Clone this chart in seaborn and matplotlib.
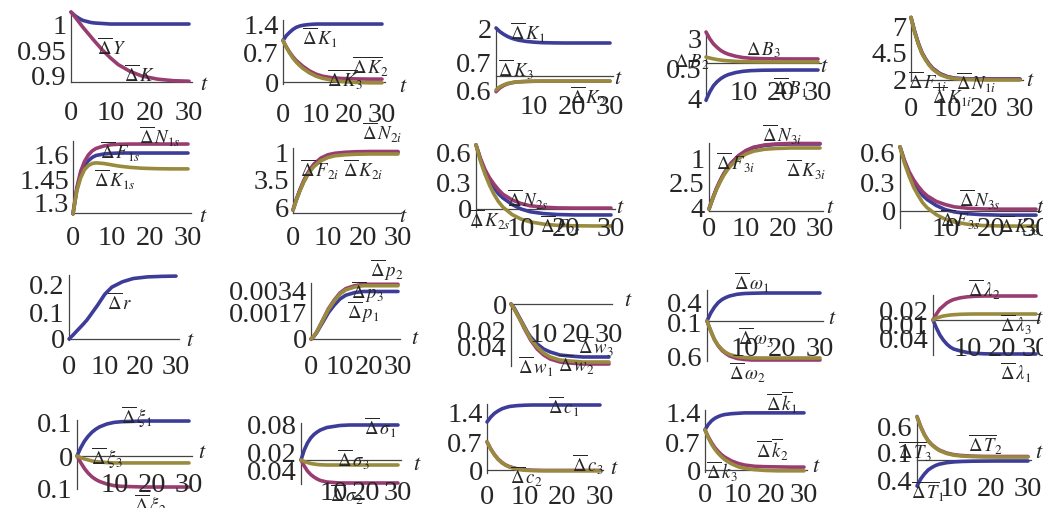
import matplotlib.pyplot as plt
import matplotlib.transforms as mtransforms
import seaborn as sns

sns.set_style('white')
plt.rcParams['font.family'] = 'serif'
plt.rcParams['font.serif'] = ['Liberation Serif', 'DejaVu Serif']
plt.rcParams['mathtext.fontset'] = 'stix'

BLUE, MAG, GOLD = '#3d3d99', '#993d71', '#998b3d'

# time grid shared by every panel
T = [0, 1, 2, 3, 4, 5, 6, 8, 10, 12, 15, 18, 22, 26, 30]

# ---- row 1 ----
c1_Y = [1.023, 1.016, 1.011, 1.007, 1.005, 1.003, 1.002, 1.001, 1.0, 1.0, 1.0, 1.0, 1.0, 1.0, 1.0]
c1_K = [1.023, 1.014, 1.004, 0.994, 0.985, 0.976, 0.967, 0.950, 0.935, 0.922, 0.909, 0.900, 0.894, 0.891, 0.890]

c2_K1 = [1.0, 1.12, 1.2, 1.27, 1.32, 1.35, 1.37, 1.39, 1.4, 1.4, 1.4, 1.4, 1.4, 1.4, 1.4]
c2_K2 = [1.0, 0.85, 0.72, 0.61, 0.52, 0.45, 0.38, 0.27, 0.19, 0.14, 0.1, 0.085, 0.075, 0.07, 0.07]
c2_K3 = [1.0, 0.84, 0.7, 0.58, 0.48, 0.4, 0.33, 0.22, 0.14, 0.09, 0.04, 0.01, -0.01, -0.02, -0.02]

c3_K1 = [2.0, 1.85, 1.74, 1.65, 1.58, 1.53, 1.49, 1.44, 1.41, 1.39, 1.38, 1.375, 1.375, 1.375, 1.375]
c3_K2 = [-0.65, -0.5, -0.4, -0.33, -0.29, -0.26, -0.245, -0.23, -0.22, -0.215, -0.215, -0.215, -0.215, -0.215, -0.215]
c3_K3 = [-0.58, -0.45, -0.37, -0.31, -0.28, -0.25, -0.24, -0.22, -0.215, -0.21, -0.21, -0.21, -0.21, -0.21, -0.21]

c4_B1 = [-3.6, -2.8, -2.2, -1.8, -1.5, -1.28, -1.12, -0.92, -0.8, -0.74, -0.7, -0.69, -0.68, -0.68, -0.68]
c4_B3 = [3.0, 2.35, 1.85, 1.5, 1.2, 1.0, 0.85, 0.65, 0.52, 0.46, 0.42, 0.4, 0.39, 0.39, 0.39]
c4_B2 = [0.58, 0.48, 0.4, 0.33, 0.28, 0.24, 0.21, 0.16, 0.13, 0.115, 0.105, 0.1, 0.1, 0.1, 0.1]

c5_F = [7.9, 6.6, 5.5, 4.6, 4.0, 3.5, 3.1, 2.6, 2.32, 2.18, 2.12, 2.1, 2.1, 2.1, 2.1]
c5_N = [7.9, 6.55, 5.45, 4.55, 3.95, 3.45, 3.07, 2.57, 2.3, 2.15, 2.09, 2.07, 2.06, 2.06, 2.06]
c5_K = [7.9, 6.5, 5.4, 4.5, 3.9, 3.4, 3.0, 2.5, 2.25, 2.12, 2.05, 2.02, 2.0, 2.0, 2.0]

# ---- row 2 ----
c6_F = [1.24, 1.39, 1.48, 1.535, 1.565, 1.585, 1.597, 1.606, 1.61, 1.612, 1.612, 1.612, 1.612, 1.612, 1.612]
c6_N = [1.24, 1.40, 1.50, 1.56, 1.60, 1.625, 1.64, 1.655, 1.663, 1.666, 1.667, 1.667, 1.667, 1.667, 1.667]
c6_K = [1.24, 1.38, 1.46, 1.51, 1.535, 1.548, 1.552, 1.548, 1.54, 1.532, 1.524, 1.519, 1.516, 1.515, 1.515]

c7_F = [0.12, 0.55, 0.92, 1.25, 1.52, 1.75, 1.93, 2.17, 2.3, 2.36, 2.40, 2.42, 2.43, 2.43, 2.43]
c7_N = [0.12, 0.56, 0.94, 1.27, 1.55, 1.78, 1.96, 2.2, 2.33, 2.39, 2.43, 2.45, 2.46, 2.46, 2.46]
c7_K = [0.12, 0.53, 0.89, 1.21, 1.47, 1.69, 1.86, 2.09, 2.22, 2.29, 2.33, 2.35, 2.36, 2.36, 2.36]

c8_K = [0.70, 0.54, 0.41, 0.31, 0.23, 0.165, 0.12, 0.05, 0.0, -0.03, -0.05, -0.06, -0.065, -0.065, -0.065]
c8_N = [0.70, 0.55, 0.43, 0.34, 0.27, 0.21, 0.16, 0.10, 0.06, 0.035, 0.02, 0.012, 0.01, 0.01, 0.01]
c8_F = [0.70, 0.52, 0.38, 0.26, 0.16, 0.08, 0.02, -0.06, -0.11, -0.14, -0.165, -0.178, -0.183, -0.185, -0.185]

c9_F = [0.08, 0.5, 0.88, 1.2, 1.48, 1.7, 1.9, 2.2, 2.4, 2.53, 2.62, 2.66, 2.68, 2.68, 2.68]
c9_N = [0.08, 0.51, 0.9, 1.22, 1.5, 1.72, 1.92, 2.22, 2.42, 2.55, 2.64, 2.68, 2.7, 2.7, 2.7]
c9_K = [0.08, 0.48, 0.85, 1.16, 1.43, 1.65, 1.83, 2.1, 2.28, 2.39, 2.47, 2.5, 2.52, 2.52, 2.52]

c10_F = [0.70, 0.54, 0.41, 0.31, 0.235, 0.17, 0.125, 0.06, 0.015, -0.01, -0.03, -0.04, -0.045, -0.045, -0.045]
c10_N = [0.70, 0.55, 0.43, 0.34, 0.27, 0.21, 0.165, 0.105, 0.07, 0.045, 0.03, 0.023, 0.02, 0.02, 0.02]
c10_K = [0.70, 0.52, 0.38, 0.26, 0.17, 0.09, 0.035, -0.04, -0.09, -0.12, -0.145, -0.158, -0.163, -0.165, -0.165]

# ---- row 3 ----
c11_r = [0, 0.013, 0.027, 0.041, 0.055, 0.07, 0.088, 0.125, 0.165, 0.192, 0.212, 0.224, 0.23, 0.232, 0.233]

c12_p1 = [0, 0.00018, 0.00045, 0.0008, 0.00114, 0.00148, 0.00183, 0.00235, 0.00278, 0.00304, 0.00322, 0.0033, 0.0033, 0.0033, 0.0033]
c12_p2 = [0, 0.0002, 0.0005, 0.0009, 0.0013, 0.0017, 0.0021, 0.0027, 0.0032, 0.0035, 0.0037, 0.0038, 0.0038, 0.0038, 0.0038]
c12_p3 = [0, 0.0002, 0.0005, 0.00088, 0.00127, 0.00166, 0.00205, 0.00263, 0.00312, 0.00341, 0.00361, 0.0037, 0.0037, 0.0037, 0.0037]

c13_w3 = [0, -0.004, -0.01, -0.016, -0.022, -0.028, -0.033, -0.04, -0.045, -0.048, -0.051, -0.052, -0.053, -0.053, -0.053]
c13_w2 = [0, -0.005, -0.011, -0.017, -0.024, -0.03, -0.036, -0.045, -0.051, -0.055, -0.058, -0.059, -0.06, -0.06, -0.06]
c13_w1 = [0, -0.005, -0.011, -0.017, -0.023, -0.029, -0.035, -0.043, -0.049, -0.053, -0.056, -0.057, -0.058, -0.058, -0.058]

c14_o1 = [0, 0.16, 0.28, 0.37, 0.43, 0.47, 0.5, 0.535, 0.55, 0.555, 0.56, 0.56, 0.56, 0.56, 0.56]
c14_o2 = [0, -0.2, -0.38, -0.5, -0.59, -0.65, -0.7, -0.75, -0.77, -0.78, -0.78, -0.78, -0.78, -0.78, -0.78]
c14_o3 = [0, -0.2, -0.37, -0.49, -0.57, -0.63, -0.67, -0.71, -0.73, -0.74, -0.74, -0.74, -0.74, -0.74, -0.74]

c15_l1 = [0, -0.008, -0.015, -0.02, -0.024, -0.027, -0.029, -0.031, -0.0325, -0.0333, -0.0338, -0.034, -0.034, -0.034, -0.034]
c15_l2 = [0, 0.006, 0.011, 0.014, 0.017, 0.019, 0.0205, 0.0222, 0.0232, 0.0237, 0.024, 0.024, 0.024, 0.024, 0.024]
c15_l3 = [0, 0.002, 0.003, 0.004, 0.0045, 0.005, 0.0053, 0.0057, 0.0059, 0.006, 0.006, 0.006, 0.006, 0.006, 0.006]

# ---- row 4 ----
c16_x1 = [0, 0.025, 0.045, 0.06, 0.072, 0.081, 0.088, 0.097, 0.102, 0.104, 0.105, 0.106, 0.106, 0.106, 0.106]
c16_x2 = [0, -0.02, -0.038, -0.052, -0.063, -0.071, -0.077, -0.085, -0.09, -0.092, -0.093, -0.094, -0.094, -0.094, -0.094]
c16_x3 = [0, -0.005, -0.009, -0.012, -0.015, -0.017, -0.018, -0.02, -0.021, -0.021, -0.021, -0.021, -0.021, -0.021, -0.021]

c17_s1 = [0, 0.02, 0.034, 0.044, 0.051, 0.056, 0.06, 0.065, 0.067, 0.069, 0.07, 0.07, 0.07, 0.07, 0.07]
c17_s2 = [0, -0.012, -0.022, -0.029, -0.034, -0.038, -0.041, -0.044, -0.045, -0.046, -0.046, -0.046, -0.046, -0.046, -0.046]
c17_s3 = [0, -0.003, -0.005, -0.007, -0.008, -0.009, -0.0095, -0.01, -0.01, -0.01, -0.01, -0.01, -0.01, -0.01, -0.01]

c18_c1 = [1.16, 1.28, 1.37, 1.43, 1.48, 1.51, 1.535, 1.555, 1.565, 1.57, 1.57, 1.57, 1.57, 1.57, 1.57]
c18_c2 = [0.68, 0.51, 0.37, 0.26, 0.18, 0.12, 0.08, 0.03, 0.005, -0.005, -0.01, -0.01, -0.01, -0.01, -0.01]
c18_c3 = [0.68, 0.5, 0.36, 0.25, 0.17, 0.11, 0.07, 0.02, -0.005, -0.015, -0.02, -0.02, -0.02, -0.02, -0.02]

c19_k1 = [0.97, 1.1, 1.19, 1.25, 1.29, 1.32, 1.34, 1.36, 1.37, 1.38, 1.38, 1.38, 1.38, 1.38, 1.38]
c19_k2 = [0.97, 0.8, 0.66, 0.54, 0.45, 0.37, 0.31, 0.22, 0.16, 0.12, 0.09, 0.08, 0.075, 0.07, 0.07]
c19_k3 = [0.97, 0.78, 0.62, 0.5, 0.4, 0.32, 0.25, 0.15, 0.08, 0.04, 0.01, -0.01, -0.02, -0.02, -0.02]

c20_T1 = [-0.26, -0.19, -0.14, -0.1, -0.075, -0.055, -0.042, -0.027, -0.019, -0.015, -0.012, -0.011, -0.01, -0.01, -0.01]
c20_T2 = [0.435, 0.335, 0.255, 0.195, 0.155, 0.125, 0.1, 0.07, 0.053, 0.045, 0.039, 0.036, 0.035, 0.035, 0.035]
c20_T3 = [0.43, 0.33, 0.25, 0.19, 0.15, 0.12, 0.095, 0.065, 0.048, 0.04, 0.034, 0.031, 0.03, 0.03, 0.03]

# tick labels (copied as printed, signs are missing in the original)
XT_ALL = ['0', '10', '20', '30']
XT_CUT = ['', '10', '20', '30']
yt1 = ['1', '0.95', '0.9']
yt2 = ['1.4', '0.7', '0']
yt3 = ['2', '0.7', '0.6']
yt4 = ['3', '0.5', '4']
yt5 = ['7', '4.5', '2']
yt6 = ['1.6', '1.45', '1.3']
yt7 = ['1', '3.5', '6']
yt8 = ['0.6', '0.3', '0']
yt9 = ['1', '2.5', '4']
yt10 = ['0.6', '0.3', '0']
yt11 = ['0.2', '0.1', '0']
yt12 = ['0.0034', '0.0017', '0']
yt13 = ['0', '0.02', '0.04']
yt14 = ['0.4', '0.1', '0.6']
yt15 = ['0.02', '0.01', '0.04']
yt16 = ['0.1', '0', '0.1']
yt17 = ['0.08', '0.02', '0.04']
yt18 = ['1.4', '0.7', '0']
yt19 = ['1.4', '0.7', '0']
yt20 = ['0.6', '0.1', '0.4']

D = r'\overline{\Delta}\,'
nm1 = ['$' + D + 'Y$', '$' + D + 'K$']
nm2 = ['$' + D + 'K_1$', '$' + D + r'\overline{K}_2$', '$' + D + r'\overline{K}_3$']
nm3 = ['$' + D + 'K_1$', '$' + D + 'K_3$', '$' + D + 'K_2$']
nm4 = [r'$\Delta\,B_2$', r'$\Delta\,B_3$', '$' + D + 'B_1$']
nm5 = ['$' + D + 'F_{1i}$', '$' + D + 'N_{1i}$', '$' + D + 'K_{1i}$']
nm6 = ['$' + D + 'N_{1s}$', '$' + D + 'F_{1s}$', '$' + D + 'K_{1s}$']
nm7 = ['$' + D + 'N_{2i}$', '$' + D + 'F_{2i}$', '$' + D + 'K_{2i}$']
nm8 = ['$' + D + 'N_{2s}$', '$' + D + 'K_{2s}$', '$' + D + 'F_{2s}$']
nm9 = ['$' + D + 'N_{3i}$', '$' + D + 'F_{3i}$', '$' + D + 'K_{3i}$']
nm10 = ['$' + D + 'N_{3s}$', '$' + D + 'F_{3s}$', '$' + D + 'K_{3s}$']
nm11 = ['$' + D + 'r$']
nm12 = ['$' + D + 'p_2$', '$' + D + 'p_3$', '$' + D + 'p_1$']
nm13 = ['$' + D + 'w_1$', '$' + D + 'w_2$', '$' + D + 'w_3$']
nm14 = ['$' + D + r'\omega_1$', '$' + D + r'\omega_3$', '$' + D + r'\omega_2$']
nm15 = ['$' + D + r'\lambda_2$', '$' + D + r'\lambda_3$', '$' + D + r'\lambda_1$']
nm16 = ['$' + D + r'\xi_1$', '$' + D + r'\xi_3$', '$' + D + r'\xi_2$']
nm17 = ['$' + D + r'\sigma_1$', '$' + D + r'\sigma_3$', '$' + D + r'\sigma_2$']
nm18 = ['$' + D + 'c_1$', '$' + D + 'c_2$', '$' + D + 'c_3$']
nm19 = ['$' + D + r'\overline{k}_1$', '$' + D + r'\overline{k}_2$', '$' + D + 'k_3$']
nm20 = ['$' + D + r'\overline{T}_2$', '$' + D + r'\overline{T}_3$', '$' + D + r'\overline{T}_1$']

# layout in pixels: box = (x at t=0, x at t=30, top, bottom), axis = (pixel row, value)
PANELS = [
    dict(box=(71, 189, 12, 82), axis=(82, 0.8885), ppu=520, series=[(c1_Y, BLUE), (c1_K, MAG)],
         yt=(yt1, [24, 51, 76]), xt=(XT_ALL, 111), t=(204, 86), nm=(nm1, [(112, 48), (140, 75)])),
    dict(box=(283, 382, 20, 84), axis=(82, 0), ppu=41.4, series=[(c2_K1, BLUE), (c2_K2, MAG), (c2_K3, GOLD)],
         yt=(yt2, [24, 52, 82]), xt=(XT_ALL, 112), t=(403, 87), nm=(nm2, [(320, 38), (370, 67), (345, 80)])),
    dict(box=(496, 610, 27, 92), axis=(76, 0), ppu=24, series=[(c3_K1, BLUE), (c3_K2, MAG), (c3_K3, GOLD)],
         yt=(yt3, [28, 63, 90]), xt=(XT_CUT, 105), t=(618, 80), nm=(nm3, [(528, 33), (516, 70), (588, 97)])),
    dict(box=(706, 818, 31, 101), axis=(63, 0), ppu=10.33, series=[(c4_B1, BLUE), (c4_B3, MAG), (c4_B2, GOLD)],
         yt=(yt4, [39, 68, 98]), xt=(XT_CUT, 90), t=(824, 68), nm=(nm4, [(692, 62), (763, 50), (790, 88)])),
    dict(box=(911, 1020, 16, 81), axis=(80, 2.0), ppu=10.6, series=[(c5_F, BLUE), (c5_N, MAG), (c5_K, GOLD)],
         yt=(yt5, [27, 53, 80]), xt=(XT_ALL, 107), t=(1030, 82), nm=(nm5, [(928, 82), (976, 83), (952, 97)])),

    dict(box=(73, 188, 141, 214), axis=(213, 1.245), ppu=163.4, series=[(c6_F, BLUE), (c6_N, MAG), (c6_K, GOLD)],
         yt=(yt6, [155, 180, 203]), xt=(XT_ALL, 235), t=(203, 218), nm=(nm6, [(160, 137), (120, 152), (115, 180)])),
    dict(box=(293, 398, 148, 213), axis=(213, 0), ppu=25, series=[(c7_F, BLUE), (c7_N, MAG), (c7_K, GOLD)],
         yt=(yt7, [153, 180, 208]), xt=(XT_ALL, 235), t=(403, 218), nm=(nm7, [(382, 133), (320, 170), (363, 170)])),
    dict(box=(476, 611, 145, 227), axis=(209, 0), ppu=91.7, series=[(c8_K, BLUE), (c8_N, MAG), (c8_F, GOLD)],
         yt=(yt8, [153, 182, 208]), xt=(XT_CUT, 227), t=(620, 209), nm=(nm8, [(528, 200), (490, 220), (560, 226)])),
    dict(box=(709, 820, 143, 211), axis=(211, 0), ppu=25, series=[(c9_F, BLUE), (c9_N, MAG), (c9_K, GOLD)],
         yt=(yt9, [158, 182, 208]), xt=(XT_ALL, 227), t=(830, 209), nm=(nm9, [(782, 135), (736, 163), (806, 170)])),
    dict(box=(900, 1036, 146, 228), axis=(211, 0), ppu=91.7, series=[(c10_F, BLUE), (c10_N, MAG), (c10_K, GOLD)],
         yt=(yt10, [153, 182, 210]), xt=(XT_CUT, 227), t=(1040, 209), nm=(nm10, [(980, 200), (960, 220), (1020, 226)])),

    dict(box=(69, 176, 275, 340), axis=(339, 0), ppu=270, series=[(c11_r, BLUE)],
         yt=(yt11, [285, 313, 339]), xt=(XT_ALL, 365), t=(190, 342), nm=(nm11, [(120, 303)])),
    dict(box=(311, 398, 283, 340), axis=(339, 0), ppu=14400, series=[(c12_p1, BLUE), (c12_p2, MAG), (c12_p3, GOLD)],
         yt=(yt12, [290, 313, 338]), xt=(XT_ALL, 365), t=(415, 339), nm=(nm12, [(387, 270), (367, 292), (363, 312)])),
    dict(box=(511, 609, 303, 366), axis=(304, 0), ppu=1000, series=[(c13_w3, BLUE), (c13_w2, MAG), (c13_w1, GOLD)],
         yt=(yt13, [305, 330, 347]), xt=(XT_CUT, 332), t=(628, 302), nm=(nm13, [(536, 367), (576, 365), (596, 347)])),
    dict(box=(707, 820, 290, 361), axis=(321, 0), ppu=50, series=[(c14_o1, BLUE), (c14_o2, MAG), (c14_o3, GOLD)],
         yt=(yt14, [302, 322, 357]), xt=(XT_CUT, 347), t=(832, 320), nm=(nm14, [(752, 283), (756, 338), (748, 373)])),
    dict(box=(933, 1036, 295, 355), axis=(320, 0), ppu=1000, series=[(c15_l1, BLUE), (c15_l2, MAG), (c15_l3, GOLD)],
         yt=(yt15, [310, 325, 338]), xt=(XT_CUT, 347), t=(1039, 320), nm=(nm15, [(984, 290), (1016, 325), (1016, 373)])),

    dict(box=(77, 189, 420, 489), axis=(456, 0), ppu=330, series=[(c16_x1, BLUE), (c16_x2, MAG), (c16_x3, GOLD)],
         yt=(yt16, [423, 456, 488]), xt=(XT_CUT, 483), t=(202, 453), nm=(nm16, [(137, 417), (107, 458), (150, 505)])),
    dict(box=(301, 398, 423, 484), axis=(460, 0), ppu=500, series=[(c17_s1, BLUE), (c17_s2, MAG), (c17_s3, GOLD)],
         yt=(yt17, [425, 452, 470]), xt=(XT_CUT, 490), t=(417, 465), nm=(nm17, [(380, 428), (353, 460), (347, 495)])),
    dict(box=(487, 600, 404, 473), axis=(470, 0), ppu=41.4, series=[(c18_c1, BLUE), (c18_c2, MAG), (c18_c3, GOLD)],
         yt=(yt18, [412, 442, 470]), xt=(XT_ALL, 495), t=(614, 470), nm=(nm18, [(564, 407), (526, 477), (588, 465)])),
    dict(box=(705, 804, 410, 472), axis=(470, 0), ppu=41.4, series=[(c19_k1, BLUE), (c19_k2, MAG), (c19_k3, GOLD)],
         yt=(yt19, [413, 442, 470]), xt=(XT_ALL, 493), t=(816, 468), nm=(nm19, [(782, 403), (772, 450), (722, 472)])),
    dict(box=(917, 1028, 416, 487), axis=(460, 0), ppu=100, series=[(c20_T1, BLUE), (c20_T2, MAG), (c20_T3, GOLD)],
         yt=(yt20, [427, 452, 480]), xt=(XT_CUT, 487), t=(1039, 453), nm=(nm20, [(985, 445), (915, 452), (928, 492)])),
]

W, H = 1043, 508
fig = plt.figure(figsize=(W / 100, H / 100), dpi=100)
AX_COL = '#444444'
XMAX = 30.8

for p in PANELS:
    x0, x30, top, bot = p['box']
    ay, aval = p['axis']
    ppu = p['ppu']
    width = (x30 - x0) * XMAX / 30
    ax = fig.add_axes([x0 / W, 1 - bot / H, width / W, (bot - top) / H])
    ax.patch.set_visible(False)

    for vals, col in p['series']:
        sns.lineplot(x=T, y=vals, ax=ax, color=col, linewidth=2.6, clip_on=False, legend=False)

    ax.set_xlim(0, XMAX)
    ax.set_ylim(aval - (bot - ay) / ppu, aval + (ay - top) / ppu)
    ax.set_xlabel('')
    ax.set_ylabel('')

    # Mathematica-like crossing axes
    ax.spines['top'].set_visible(False)
    ax.spines['right'].set_visible(False)
    ax.spines['bottom'].set_position(('data', aval))
    for s in ['left', 'bottom']:
        ax.spines[s].set_color(AX_COL)
        ax.spines[s].set_linewidth(0.9)
        ax.spines[s].set_zorder(1)

    labels, ypx = p['yt']
    ax.set_yticks([aval + (ay - yp) / ppu for yp in ypx], labels)
    ax.set_xticks([10, 20, 30], ['', '', ''])
    ax.tick_params(direction='in', length=3.5, width=0.8, color=AX_COL, pad=3)
    ax.tick_params(axis='y', labelsize=20.5)

    # x tick labels sit where Mathematica left them
    tr = mtransforms.blended_transform_factory(ax.transData, fig.transFigure)
    xlabels, yc = p['xt']
    for v, s in zip([0, 10, 20, 30], xlabels):
        if s:
            ax.text(v, 1 - yc / H, s, transform=tr, ha='center', va='center_baseline', fontsize=20.5)

    tx, ty = p['t']
    fig.text(tx / W, 1 - ty / H, '$t$', ha='center', va='center', fontsize=16)

    names, pos = p['nm']
    for s, (nx, ny) in zip(names, pos):
        fig.text(nx / W, 1 - ny / H, s, ha='center', va='center', fontsize=13.5)

fig.savefig('out.png', dpi=100)
